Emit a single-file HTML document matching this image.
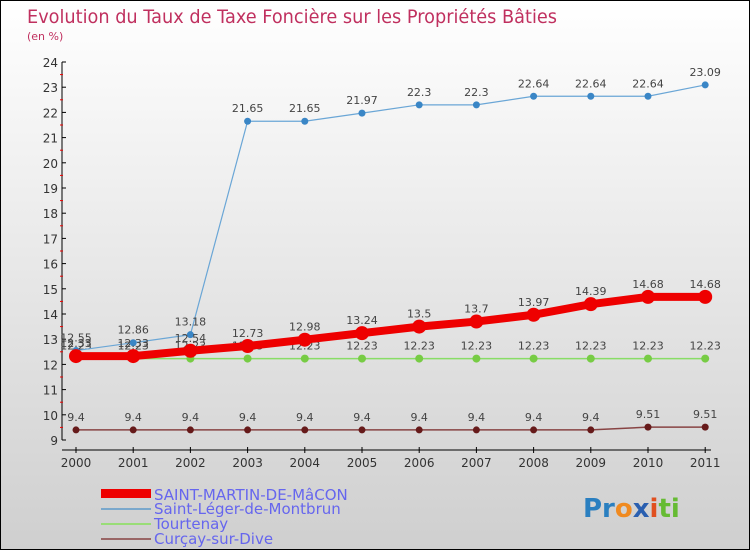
<!DOCTYPE html>
<html><head><meta charset="utf-8"><style>
body{margin:0}
#c{position:relative;width:748px;height:548px;border:1px solid #000;background:linear-gradient(#ffffff,#cfcfcf);font-family:"DejaVu Sans","Liberation Sans",sans-serif;overflow:hidden}
svg text{font-family:"DejaVu Sans","Liberation Sans",sans-serif}
</style></head><body>
<div id="c">
<svg id="s" width="748" height="548">
<text x="26" y="22" font-size="19" fill="#c0305f" textLength="530" lengthAdjust="spacingAndGlyphs">Evolution du Taux de Taxe Foncière sur les Propriétés Bâties</text>
<text x="26" y="39" font-size="11" fill="#c0305f">(en %)</text>
<g id="axes"></g><g id="series"></g>
<g>
<rect x="100" y="488" width="50" height="9" fill="#ee0000"/>
<text x="153" y="499" font-size="15" fill="#6666ee">SAINT-MARTIN-DE-MâCON</text>
<rect x="100" y="507" width="50" height="2" fill="#7aa8cc"/>
<text x="153" y="513" font-size="15" fill="#6666ee">Saint-Léger-de-Montbrun</text>
<rect x="100" y="522" width="50" height="2" fill="#99dd77"/>
<text x="153" y="528" font-size="15" fill="#6666ee">Tourtenay</text>
<rect x="100" y="537" width="50" height="2" fill="#996666"/>
<text x="153" y="543" font-size="15" fill="#6666ee">Curçay-sur-Dive</text>
</g>
<text x="582" y="516" font-size="26" font-weight="bold"><tspan fill="#2a7fc0">Pr</tspan><tspan fill="#f08a20">o</tspan><tspan fill="#2a5fb0">x</tspan><tspan fill="#e05020">i</tspan><tspan fill="#66bb33">ti</tspan></text>
</svg></div>
<script>
const years=[2000,2001,2002,2003,2004,2005,2006,2007,2008,2009,2010,2011];
const yTicks=[9,10,11,12,13,14,15,16,17,18,19,20,21,22,23,24];
const stMartin=[12.33,12.33,12.54,12.73,12.98,13.24,13.5,13.7,13.97,14.39,14.68,14.68];
const stLeger=[12.55,12.86,13.18,21.65,21.65,21.97,22.3,22.3,22.64,22.64,22.64,23.09];
const tourtenay=[12.23,12.23,12.23,12.23,12.23,12.23,12.23,12.23,12.23,12.23,12.23,12.23];
const curcay=[9.4,9.4,9.4,9.4,9.4,9.4,9.4,9.4,9.4,9.4,9.51,9.51];
const NS="http://www.w3.org/2000/svg";
const xs=i=>75+i*57.2;
const ys=v=>439-(v-9)*25.2;
function mk(tag,attrs,parent){const e=document.createElementNS(NS,tag);for(const k in attrs)e.setAttribute(k,attrs[k]);parent.appendChild(e);return e;}
const ax=document.getElementById('axes');
let l=mk('line',{x1:61,y1:ys(24),x2:61,y2:ys(9),stroke:'#000'},ax);


l=mk('line',{x1:61,y1:449,x2:710,y2:449,stroke:'#000'},ax);


yTicks.forEach(v=>{
 mk('line',{x1:61,y1:ys(v),x2:65,y2:ys(v),stroke:'#000'},ax);
 if(v<24) mk('line',{x1:59,y1:ys(v+0.5),x2:62,y2:ys(v+0.5),stroke:'#e00'},ax);
 const t=mk('text',{x:57,y:ys(v)+5,'font-size':12,fill:'#333','text-anchor':'end'},ax);
 t.textContent=v;
 
 
});
years.forEach((y,i)=>{
 mk('line',{x1:xs(i),y1:446,x2:xs(i),y2:452,stroke:'#000'},ax);
 const t=mk('text',{x:xs(i),y:466,'font-size':12,fill:'#333','text-anchor':'middle'},ax);
 t.textContent=y;
 
 
});
const sg=document.getElementById('series');
function series(vals,name,color,w,r,dot){
 const g=mk('g',{},sg);
 
 
 const p=mk('polyline',{points:vals.map((v,i)=>xs(i)+','+ys(v)).join(' '),fill:'none',stroke:color,'stroke-width':w},g);
 
 
 vals.forEach((v,i)=>{
  const c=mk('circle',{cx:xs(i),cy:ys(v),r:r,fill:dot},g);
  
  
  const t=mk('text',{x:xs(i),y:ys(v)-9,'font-size':11,fill:'#444','text-anchor':'middle'},g);
  t.textContent=v;
  
  
 });
}
series(curcay,'curcay','#884444',1.5,3.5,'#661a1a');
series(tourtenay,'tourtenay','#88dd66',1.5,4,'#77cc44');
series(stLeger,'saint-leger','#6aa6d6',1.2,3.5,'#3a86c6');
series(stMartin,'saint-martin','#ee0000',8,7,'#ee0000');
</script>
</body></html>
